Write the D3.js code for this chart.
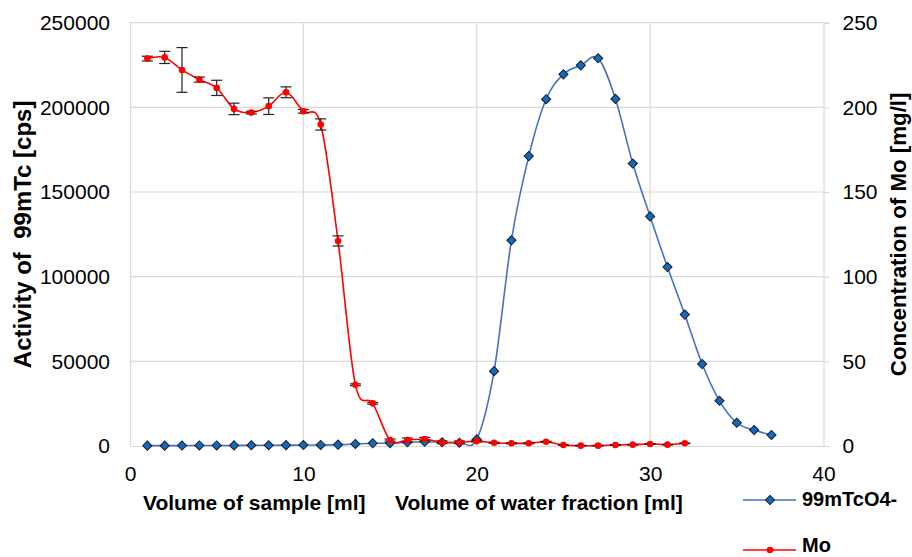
<!DOCTYPE html>
<html>
<head>
<meta charset="utf-8">
<script src="https://cdn.jsdelivr.net/npm/d3@7"></script>
<style>
  html, body { margin: 0; padding: 0; background: #fff; }
  svg { display: block; font-family: "Liberation Sans", Arial, sans-serif; }
</style>
</head>
<body>
<svg id="chart" width="912" height="557"></svg>
<script>
// ---- data ----
const tcVolume = d3.range(1, 38);
const tcActivity = [200, 200, 250, 300, 300, 350, 400, 450, 500, 550, 600, 800, 1200, 1600, 1700, 2200, 2500, 2200, 1950, 3900,
  44200, 121500, 171200, 204800, 219500, 224800, 229000, 205000, 166800, 135600, 105700, 77600, 48400, 26700, 13700, 9400, 6500];

const moVolume = d3.range(1, 33);
const moConc = [228.8, 229.5, 222.1, 216.4, 211.5, 199.1, 196.9, 200.7, 208.9, 197.7, 189.9, 121.1, 36.2, 25.2, 3.5, 3.5,
  4.1, 2.2, 2.2, 2.9, 1.9, 1.6, 1.6, 2.5, 0.6, 0.2, 0.2, 0.6, 0.8, 1.2, 0.8, 1.6];
const moError = [1.4, 3.6, 13.2, 1.5, 4.5, 3.4, 0.8, 4.9, 3.2, 1.1, 3.3, 3.0, 0.5, 0.5, 0.6, 1.2,
  1.0, 0.8, 0.8, 0.5, 0.3, 0.3, 0.3, 0.3, 0.2, 0.2, 0.2, 0.2, 0.2, 0.2, 0.2, 0.2];

const xTicks = [0, 10, 20, 30, 40];
const leftTicks = [0, 50000, 100000, 150000, 200000, 250000];
const rightTicks = [0, 50, 100, 150, 200, 250];

const seriesNames = ["99mTcO4-", "Mo"];
const leftTitle = "Activity of  99mTc [cps]";
const rightTitle = "Concentration of Mo [mg/l]";
const xTitleA = "Volume of sample [ml]";
const xTitleB = "Volume of water fraction [ml]";

// ---- layout ----
const svg = d3.select("#chart");
const L = 130, R = 823.5, T = 22.7, B = 446;

const x = d3.scaleLinear().domain([0, 40]).range([L, R]);
const yL = d3.scaleLinear().domain([0, 250000]).range([B, T]);
const yR = d3.scaleLinear().domain([0, 250]).range([B, T]);

const gridColor = "#d9d9d9";

// gridlines
svg.append("g").selectAll("line").data(leftTicks.filter(d => d > 0)).join("line")
  .attr("x1", L).attr("x2", R).attr("y1", d => yL(d)).attr("y2", d => yL(d))
  .attr("stroke", gridColor).attr("stroke-width", 1.2);
svg.append("g").selectAll("line").data(xTicks.filter(d => d > 0 && d < 40)).join("line")
  .attr("x1", d => x(d)).attr("x2", d => x(d)).attr("y1", T).attr("y2", B)
  .attr("stroke", gridColor).attr("stroke-width", 1.2);

// axes
const axB = svg.append("g").attr("transform", `translate(0,${B})`)
  .call(d3.axisBottom(x).tickValues(xTicks).tickSize(0).tickPadding(20).tickFormat(d3.format("d")));
const axL = svg.append("g").attr("transform", `translate(${L},0)`)
  .call(d3.axisLeft(yL).tickValues(leftTicks).tickSize(0).tickPadding(20).tickFormat(d3.format("d")));
const axR = svg.append("g").attr("transform", `translate(${R},0)`)
  .call(d3.axisRight(yR).tickValues(rightTicks).tickSize(6).tickPadding(13).tickFormat(d3.format("d")));
[axB, axL, axR].forEach(a => {
  a.select(".domain").attr("stroke", gridColor).attr("stroke-width", 1.2);
  a.selectAll(".tick line").attr("stroke", gridColor).attr("stroke-width", 1.2);
  a.selectAll("text").attr("font-size", 21).attr("fill", "#000")
    .attr("font-family", "'Liberation Sans', Arial, sans-serif");
});

// ---- series ----
const curve = d3.curveCatmullRom.alpha(0);

const tcData = tcVolume.map((v, i) => ({ x: v, y: tcActivity[i] }));
const moData = moVolume.map((v, i) => ({ x: v, y: moConc[i], e: moError[i] }));

svg.append("path").datum(tcData)
  .attr("fill", "none").attr("stroke", "#4472c4").attr("stroke-width", 1.6)
  .attr("d", d3.line().x(d => x(d.x)).y(d => yL(d.y)).curve(curve));

svg.append("g").selectAll("path").data(tcData).join("path")
  .attr("transform", d => `translate(${x(d.x)},${yL(d.y)}) rotate(45)`)
  .attr("d", d3.symbol().type(d3.symbolSquare).size(42))
  .attr("fill", "#0f6cbd").attr("stroke", "#1b1b2a").attr("stroke-width", 1);

svg.append("path").datum(moData)
  .attr("fill", "none").attr("stroke", "#ff0000").attr("stroke-width", 1.6)
  .attr("d", d3.line().x(d => x(d.x)).y(d => yR(d.y)).curve(curve));

// error bars
const eb = svg.append("g").attr("stroke", "#222").attr("stroke-width", 1.2);
moData.forEach(d => {
  const cx = x(d.x), y1 = yR(d.y + d.e), y2 = yR(d.y - d.e);
  eb.append("line").attr("x1", cx).attr("x2", cx).attr("y1", y1).attr("y2", y2);
  eb.append("line").attr("x1", cx - 5.5).attr("x2", cx + 5.5).attr("y1", y1).attr("y2", y1);
  eb.append("line").attr("x1", cx - 5.5).attr("x2", cx + 5.5).attr("y1", y2).attr("y2", y2);
});

svg.append("g").selectAll("circle").data(moData).join("circle")
  .attr("cx", d => x(d.x)).attr("cy", d => yR(d.y)).attr("r", 3.3)
  .attr("fill", "#ff0000");

// ---- titles ----
svg.append("text")
  .attr("transform", `translate(31,${(T + B) / 2}) rotate(-90)`)
  .attr("text-anchor", "middle").attr("font-size", 24).attr("font-weight", "bold")
  .attr("xml:space", "preserve").style("white-space", "pre")
  .text(leftTitle);
svg.append("text")
  .attr("transform", `translate(906,${(T + B) / 2}) rotate(-90)`)
  .attr("text-anchor", "middle").attr("font-size", 22.3).attr("font-weight", "bold")
  .text(rightTitle);
svg.append("text").attr("x", 143).attr("y", 510)
  .attr("font-size", 21).attr("font-weight", "bold").text(xTitleA);
svg.append("text").attr("x", 395).attr("y", 510)
  .attr("font-size", 21).attr("font-weight", "bold").text(xTitleB);

// ---- legend ----
const legend = svg.append("g");
const legY = [500, 550];
legend.append("line").attr("x1", 743).attr("x2", 796).attr("y1", legY[0]).attr("y2", legY[0])
  .attr("stroke", "#4472c4").attr("stroke-width", 1.6);
legend.append("path").attr("transform", `translate(770,${legY[0]}) rotate(45)`)
  .attr("d", d3.symbol().type(d3.symbolSquare).size(42))
  .attr("fill", "#0f6cbd").attr("stroke", "#1b1b2a").attr("stroke-width", 1);
legend.append("line").attr("x1", 743).attr("x2", 796).attr("y1", legY[1]).attr("y2", legY[1])
  .attr("stroke", "#ff0000").attr("stroke-width", 1.6);
legend.append("circle").attr("cx", 770).attr("cy", legY[1]).attr("r", 3.3).attr("fill", "#ff0000");
legend.selectAll("text").data(seriesNames).join("text")
  .attr("x", 802).attr("y", (d, i) => i === 0 ? legY[0] + 6 : 552)
  .attr("font-size", 20).attr("font-weight", "bold").text(d => d);
</script>
</body>
</html>
